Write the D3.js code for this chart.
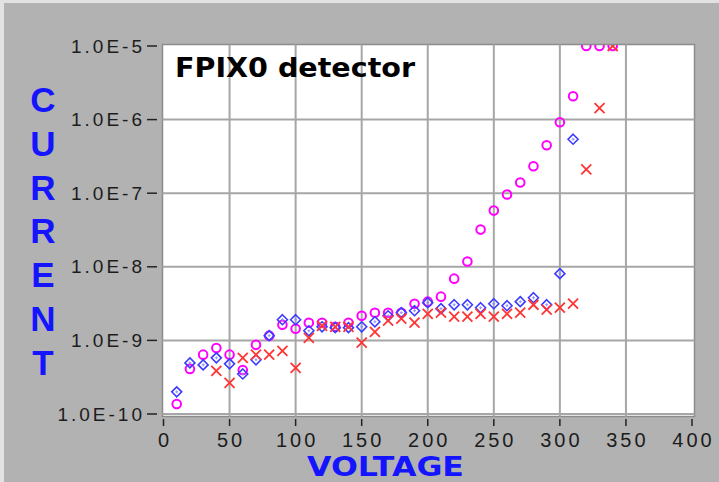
<!DOCTYPE html>
<html><head><meta charset="utf-8">
<script src="https://cdn.jsdelivr.net/npm/d3@7"></script>
<style>html,body{margin:0;padding:0;background:#b2b2b2;overflow:hidden}</style>
</head><body>
<svg id="c" width="719" height="482"></svg>
<script>
const voltage = [10,20,30,40,50,60,70,80,90,100,110,120,130,140,150,160,170,180,190,200,210,220,230,240,250,260,270,280,290,300,310,320,330,340];
const magentaCurrent = [1.37e-10,4.1e-10,6.4e-10,7.9e-10,6.4e-10,3.97e-10,8.7e-10,1.16e-9,1.63e-9,1.44e-9,1.74e-9,1.74e-9,1.53e-9,1.74e-9,2.16e-9,2.38e-9,2.38e-9,2.38e-9,3.15e-9,3.36e-9,3.93e-9,6.9e-9,1.18e-8,3.2e-8,5.8e-8,9.6e-8,1.4e-7,2.32e-7,4.48e-7,9.2e-7,2.08e-6,1e-5,1e-5,1e-5];
const blueCurrent = [2.0e-10,4.95e-10,4.65e-10,5.8e-10,4.8e-10,3.5e-10,5.45e-10,1.16e-9,1.91e-9,1.91e-9,1.35e-9,1.53e-9,1.49e-9,1.49e-9,1.53e-9,1.79e-9,2.16e-9,2.38e-9,2.53e-9,3.25e-9,2.7e-9,3.05e-9,3.05e-9,2.78e-9,3.15e-9,2.96e-9,3.36e-9,3.8e-9,3.05e-9,8.07e-9,5.41e-7,null,null,null];
const redCurrent = [null,null,null,3.85e-10,2.64e-10,5.8e-10,6.4e-10,6.4e-10,7.2e-10,4.23e-10,1.08e-9,1.58e-9,1.53e-9,1.53e-9,9.3e-10,1.31e-9,1.85e-9,1.97e-9,1.74e-9,2.3e-9,2.38e-9,2.1e-9,2.1e-9,2.3e-9,2.1e-9,2.3e-9,2.38e-9,3.05e-9,2.61e-9,2.78e-9,3.15e-9,2.11e-7,1.43e-6,1e-5];
const yTicks = [1e-10,1e-9,1e-8,1e-7,1e-6,1e-5];
const yTickLabels = ["1.0E-10","1.0E-9","1.0E-8","1.0E-7","1.0E-6","1.0E-5"];
const xTicks = [0,50,100,150,200,250,300,350,400];
const chartTitle = "FPIX0 detector";
const yTitle = "CURRENT";
const xTitle = "VOLTAGE";

const svg = d3.select("#c");
const W = 719, H = 482;
const P = {l:162.5, t:44.5, r:694.5, b:416.5};
const x = d3.scaleLinear().domain([0,400]).range([163.5,692]);
const y = d3.scaleLog().domain([1e-10,1e-5]).range([414,46]);

// outer background and light edge
svg.append("rect").attr("width",W).attr("height",H).attr("fill","#b2b2b2");
svg.append("line").attr("x1",0).attr("x2",W).attr("y1",1.5).attr("y2",1.5).attr("stroke","#e2e2e2").attr("stroke-width",3);
svg.append("line").attr("x1",2).attr("x2",2).attr("y1",0).attr("y2",H).attr("stroke","#e2e2e2").attr("stroke-width",4);

// plot area
svg.append("rect").attr("x",P.l).attr("y",P.t).attr("width",P.r-P.l).attr("height",P.b-P.t)
  .attr("fill","#fff").attr("stroke","#8c8c8c").attr("stroke-width",1.5);

svg.append("defs").append("clipPath").attr("id","clip").append("rect")
  .attr("x",P.l).attr("y",P.t+0.5).attr("width",P.r-P.l).attr("height",P.b-P.t);

const grid = svg.append("g").attr("stroke","#a6a6a6").attr("stroke-width",2);
xTicks.filter(v=>v>0 && v<400).forEach(v=>{
  grid.append("line").attr("x1",x(v)).attr("x2",x(v)).attr("y1",P.t).attr("y2",P.b);
});
yTicks.filter(v=>v<1e-5).forEach(v=>{
  grid.append("line").attr("x1",P.l).attr("x2",P.r).attr("y1",y(v)).attr("y2",y(v));
});

// ticks
const tk = svg.append("g").attr("stroke","#222").attr("stroke-width",1.5);
yTicks.forEach(v=>{
  tk.append("line").attr("x1",147).attr("x2",157).attr("y1",y(v)).attr("y2",y(v));
});
xTicks.forEach(v=>{
  tk.append("line").attr("x1",x(v)).attr("x2",x(v)).attr("y1",419).attr("y2",426);
});

// tick labels
const yl = svg.append("g").attr("font-family","Liberation Sans, Arial, sans-serif").attr("font-size",19)
  .attr("fill","#1c1c1c").attr("letter-spacing","3px");
yTicks.forEach((v,i)=>{
  yl.append("text").attr("x",145).attr("y",y(v)).attr("text-anchor","end")
    .attr("dominant-baseline","central").text(yTickLabels[i]);
});
const xl = svg.append("g").attr("font-family","Liberation Sans, Arial, sans-serif").attr("font-size",20)
  .attr("fill","#1c1c1c").attr("letter-spacing","3px");
xTicks.forEach(v=>{
  xl.append("text").attr("x",x(v)+1.5).attr("y",447).attr("text-anchor","middle").text(String(v));
});

// titles
svg.append("text").attr("x",175).attr("y",77).attr("font-family","DejaVu Sans, sans-serif")
  .attr("font-weight","bold").attr("font-size",26).attr("fill","#000")
  .attr("textLength",240).attr("lengthAdjust","spacingAndGlyphs").text(chartTitle);
svg.append("text").attr("x",307).attr("y",476).attr("font-family","DejaVu Sans, sans-serif")
  .attr("font-weight","bold").attr("font-size",27).attr("fill","#1414ff")
  .attr("textLength",157).attr("lengthAdjust","spacingAndGlyphs").text(xTitle);
const yt = svg.append("g").attr("font-family","Liberation Sans, Arial, sans-serif")
  .attr("font-weight","bold").attr("font-size",35).attr("fill","#1414ff").attr("text-anchor","middle");
yTitle.split("").forEach((ch,i)=>{
  yt.append("text").attr("x",43).attr("y",112+i*43.8).text(ch);
});

// markers
const marks = svg.append("g").attr("clip-path","url(#clip)").attr("fill","none");
const pts = (arr)=>voltage.map((v,i)=>({v, c:arr[i]})).filter(d=>d.c!=null);

marks.append("g").selectAll("circle").data(pts(magentaCurrent)).join("circle")
  .attr("cx",d=>x(d.v)).attr("cy",d=>y(d.c)).attr("r",4.3)
  .attr("stroke","#ff00ff").attr("stroke-width",2);

const bg = marks.append("g").attr("stroke","#3c3cff").attr("stroke-width",1.6);
pts(blueCurrent).forEach(d=>{
  const cx=x(d.v), cy=y(d.c), s=5;
  bg.append("path").attr("d",`M${cx},${cy-s}L${cx+s},${cy}L${cx},${cy+s}L${cx-s},${cy}Z`);
  bg.append("path").attr("d",`M${cx-1.5},${cy}L${cx+1.5},${cy}M${cx},${cy-1.5}L${cx},${cy+1.5}`).attr("stroke-width",1).attr("stroke","#8c8cff");
});

const rg = marks.append("g").attr("stroke","#ff3434").attr("stroke-width",1.8);
pts(redCurrent).forEach(d=>{
  const cx=x(d.v), cy=y(d.c), s=5;
  rg.append("path").attr("d",`M${cx-s},${cy-s}L${cx+s},${cy+s}M${cx-s},${cy+s}L${cx+s},${cy-s}`);
});
</script>
</body></html>
